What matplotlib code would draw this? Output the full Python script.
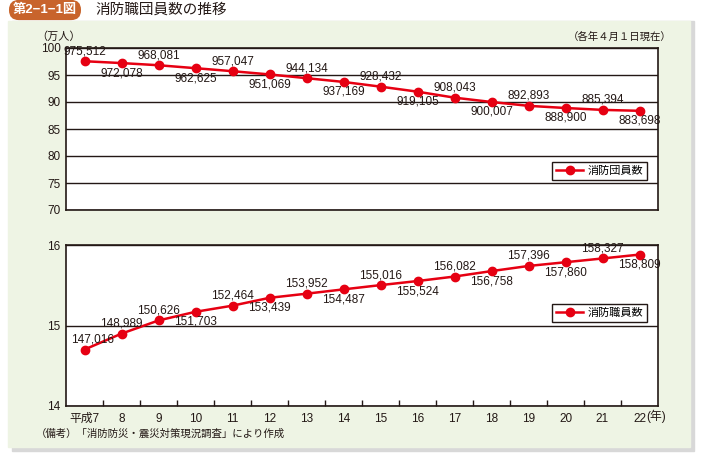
import matplotlib
matplotlib.use("Agg")
import matplotlib.pyplot as plt
from matplotlib.patches import Rectangle

plt.rcParams['font.family'] = ['Liberation Sans', 'Noto Sans CJK JP', 'DejaVu Sans']

years = ['平成7', '8', '9', '10', '11', '12', '13', '14', '15', '16',
         '17', '18', '19', '20', '21', '22']

# 消防団員数 (人)
dan_in = [975512, 972078, 968081, 962625, 957047, 951069, 944134, 937169,
          928432, 919105, 908043, 900007, 892893, 888900, 885394, 883698]
# 消防職員数 (人)
shoku_in = [147016, 148989, 150626, 151703, 152464, 153439, 153952, 154487,
            155016, 155524, 156082, 156758, 157396, 157860, 158327, 158809]

# label above (+1) or below (-1) each point
dan_pos = [1, -1, 1, -1, 1, -1, 1, -1, 1, -1, 1, -1, 1, -1, 1, -1]
shoku_pos = [1, 1, 1, -1, 1, -1, 1, -1, 1, -1, 1, -1, 1, -1, 1, -1]

RED = '#e60012'
INK = '#231815'
W, H = 702, 459


def fx(px):
    return px / W


def fy(py):
    return 1 - py / H


fig = plt.figure(figsize=(W / 100, H / 100), dpi=100)

# background panel with shadow
fig.patches.append(Rectangle((fx(12), fy(451)), fx(682), (440 - 10) / H,
                             transform=fig.transFigure, color='#d8d8d8', zorder=-3))
fig.patches.append(Rectangle((fx(8), fy(447)), fx(682), (447 - 21) / H,
                             transform=fig.transFigure, color='#eef4e4', zorder=-2))

# title badge
fig.text(fx(45), fy(10), '第2−1−1図', color='white', fontsize=9.5,
         fontweight='bold', ha='center', va='center',
         bbox=dict(boxstyle='round,pad=0.3,rounding_size=0.75',
                   fc='#c8642c', ec='none'))
fig.text(fx(95), fy(10), '消防職団員数の推移', color=INK, fontsize=10.5,
         ha='left', va='center')

x = list(range(len(years)))


def style_axes(ax):
    for s in ax.spines.values():
        s.set_color(INK)
        s.set_linewidth(1.2)
    ax.set_xlim(-0.5, len(years) - 0.5)
    ax.tick_params(axis='y', length=0, labelsize=8.5, labelcolor=INK, pad=4)
    ax.yaxis.grid(True, color=INK, linewidth=1.0)
    ax.set_axisbelow(True)


def add_legend(ax, top_px):
    leg = ax.legend(loc='upper right', bbox_to_anchor=(fx(647), fy(top_px)),
                    bbox_transform=fig.transFigure, frameon=True, fancybox=False,
                    edgecolor=INK, fontsize=8, handlelength=2.4, borderpad=0.35,
                    handletextpad=0.4, borderaxespad=0, framealpha=1)
    leg.get_frame().set_linewidth(1.0)


# top chart: 消防団員数
ax1 = fig.add_axes([fx(66), fy(210), fx(592), 162 / H])
style_axes(ax1)
v1 = [v / 10000 for v in dan_in]
ax1.plot(x, v1, color=RED, linewidth=1.8, marker='o', markersize=6,
         label='消防団員数', zorder=3)
ax1.set_ylim(70, 100)
ax1.set_yticks([70, 75, 80, 85, 90, 95, 100])
ax1.set_xticks([])
for i, (xv, yv) in enumerate(zip(x, v1)):
    ax1.annotate(f'{dan_in[i]:,}', (xv, yv), xytext=(0, 10 * dan_pos[i]),
                 textcoords='offset pixels', ha='center', va='center',
                 fontsize=8.5, color=INK, zorder=4)
add_legend(ax1, 162)

# bottom chart: 消防職員数
ax2 = fig.add_axes([fx(66), fy(406), fx(592), 161 / H])
style_axes(ax2)
v2 = [v / 10000 for v in shoku_in]
ax2.plot(x, v2, color=RED, linewidth=1.8, marker='o', markersize=6,
         label='消防職員数', zorder=3)
ax2.set_ylim(14, 16)
ax2.set_yticks([14, 15, 16])
ax2.set_xticks(x)
ax2.set_xticklabels(years)
ax2.set_xticks([i - 0.5 for i in range(1, len(years))], minor=True)
ax2.tick_params(axis='x', which='major', length=0, labelsize=8.5,
                labelcolor=INK, pad=5)
ax2.tick_params(axis='x', which='minor', direction='in', length=4,
                color=INK, width=1)
for i, (xv, yv) in enumerate(zip(x, v2)):
    dx = 8 if i == 0 else 0
    ax2.annotate(f'{shoku_in[i]:,}', (xv, yv), xytext=(dx, 10 * shoku_pos[i]),
                 textcoords='offset pixels', ha='center', va='center',
                 fontsize=8.5, color=INK, zorder=4)
add_legend(ax2, 304)

# annotations around the charts
fig.text(fx(36), fy(37), '（万人）', fontsize=8, color=INK, ha='left', va='center')
fig.text(fx(672), fy(37), '（各年４月１日現在）', fontsize=7.5, color=INK,
         ha='right', va='center')
fig.text(fx(646), fy(416), '(年)', fontsize=8.5, color=INK, ha='left', va='center')
fig.text(fx(36), fy(434), '（備考）「消防防災・震災対策現況調査」により作成',
         fontsize=7.5, color=INK, ha='left', va='center')

fig.savefig('out.png', dpi=100)
